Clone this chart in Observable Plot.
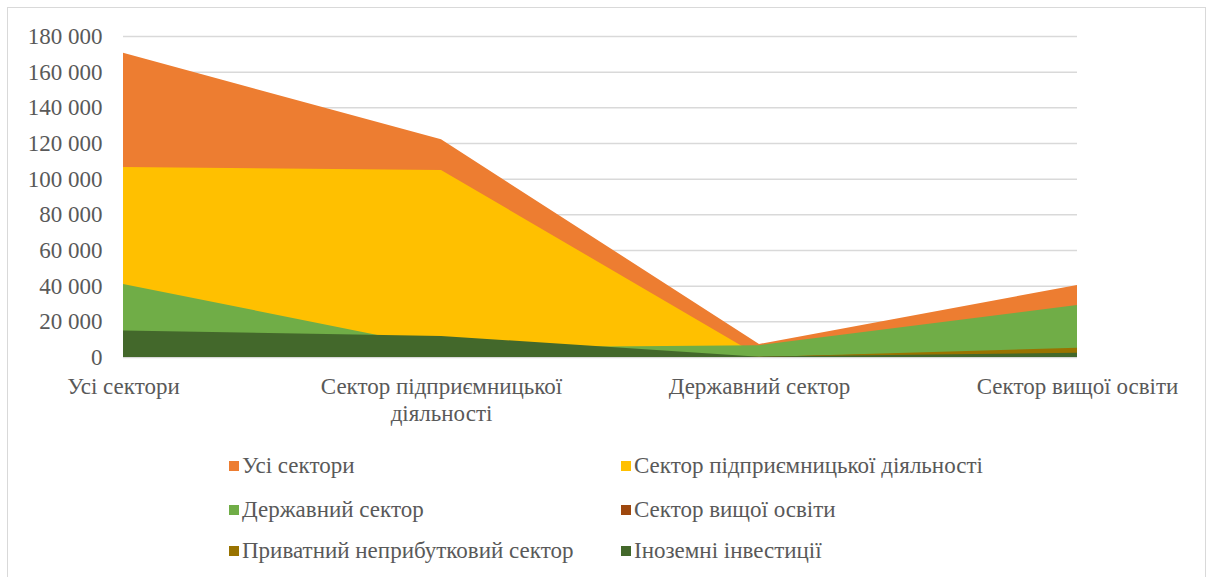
<!DOCTYPE html>
<html>
<head>
<meta charset="utf-8">
<script src="https://cdn.jsdelivr.net/npm/d3@7"></script>
<script src="https://cdn.jsdelivr.net/npm/@observablehq/plot@0.6"></script>
<style>
  html, body { margin: 0; padding: 0; background: #fff; }
  body { width: 1215px; height: 577px; position: relative; overflow: hidden; }
  #frame { position: absolute; left: 7px; top: 7px; width: 1199px; height: 600px; border: 1px solid #d9d9d9; box-sizing: border-box; }
  #chart { position: absolute; left: 0; top: 0; }
  #legend { position: absolute; left: 0; top: 0; width: 1215px; height: 577px; pointer-events: none; }
  .sw { width: 10px; height: 10px; margin-right: 3px; flex: none; display: inline-block; }
</style>
</head>
<body>
<div id="frame"></div>
<div id="chart"></div>
<div id="legend"></div>
<script>
// Categories (x axis)
const categories = ["Усі сектори", "Сектор підприємницької діяльності", "Державний сектор", "Сектор вищої освіти"];
const axisLabels = ["Усі сектори", "Сектор підприємницької\nдіяльності", "Державний сектор", "Сектор вищої освіти"];

// Series names (drawing order) and colors
const seriesNames = ["Усі сектори", "Сектор підприємницької діяльності", "Державний сектор", "Сектор вищої освіти", "Приватний неприбутковий сектор", "Іноземні інвестиції"];
const seriesColors = ["#ED7D31", "#FFC000", "#70AD47", "#9E480E", "#997300", "#43682B"];

// Series values
const allSectors   = [170600, 122100, 7300, 40400];
const business     = [106600, 104900, 500, 300];
const government   = [41000, 5200, 6600, 29200];
const higherEdu    = [4500, 300, 100, 4000];
const privateNP    = [500, 100, 0, 5200];
const foreign      = [14800, 11800, 200, 2400];

const yTicks = [0, 20000, 40000, 60000, 80000, 100000, 120000, 140000, 160000, 180000];

const seriesValues = [allSectors, business, government, higherEdu, privateNP, foreign];
const data = [];
seriesNames.forEach((s, i) => {
  categories.forEach((c, j) => data.push({series: s, category: c, value: seriesValues[i][j]}));
});

const fmt = v => d3.format(",")(v).replace(/,/g, " ");
const SERIF = "'Liberation Serif', 'Times New Roman', serif";

const chart = Plot.plot({
  width: 1215,
  height: 430,
  marginLeft: 123,
  marginRight: 138,
  marginTop: 36,
  marginBottom: 73,
  style: {background: "transparent", color: "#595959"},
  x: {type: "point", domain: categories, padding: 0},
  y: {domain: [0, 180000]},
  color: {domain: seriesNames, range: seriesColors},
  marks: [
    Plot.ruleY(yTicks, {stroke: "#d9d9d9", strokeWidth: 1.5}),
    Plot.areaY(data, {x: "category", y2: "value", z: "series", fill: "series", fillOpacity: 1, curve: "linear"}),
    Plot.axisY({ticks: yTicks, tickSize: 0, tickPadding: 21, tickFormat: fmt, fontSize: 23, fill: "#595959", label: null}),
    Plot.axisX({tickSize: 0, tickPadding: 17, fontSize: 23, fill: "#595959", lineHeight: 1.17, label: null,
      tickFormat: d => axisLabels[categories.indexOf(d)]})
  ]
});
chart.setAttribute("style", `font-family: ${SERIF} !important; background: transparent;`);
chart.querySelectorAll("g, text, tspan").forEach(t => {
  t.setAttribute("font-family", SERIF);
  t.style.setProperty("font-family", SERIF, "important");
});
document.getElementById("chart").appendChild(chart);

// Legend
const legendPos = [
  [229, 466], [621, 466],
  [229, 510], [621, 510],
  [229, 551], [621, 551]
];
const legend = document.getElementById("legend");
seriesNames.forEach((s, i) => {
  const el = document.createElement("div");
  el.setAttribute("style", `position:absolute; left:${legendPos[i][0]}px; top:${legendPos[i][1] - 12}px; display:flex; align-items:center; font-size:23px; line-height:1; color:#595959; white-space:nowrap; font-family:${SERIF} !important;`);
  const sw = document.createElement("span");
  sw.className = "sw";
  sw.style.background = seriesColors[i];
  const tx = document.createElement("span");
  tx.textContent = s;
  tx.setAttribute("style", `font-family:${SERIF} !important;`);
  el.appendChild(sw);
  el.appendChild(tx);
  legend.appendChild(el);
});
</script>
</body>
</html>
